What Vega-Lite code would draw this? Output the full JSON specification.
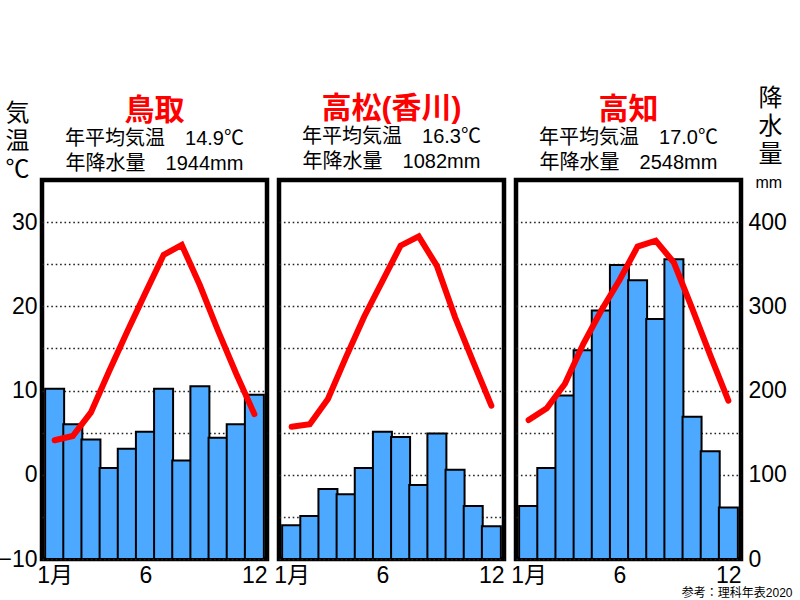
{
  "$schema": "https://vega.github.io/schema/vega-lite/v6.json",
  "autosize": {"type": "pad"},
  "padding": {"left": -5, "top": 83, "right": 0, "bottom": 0},
  "background": "white",
  "datasets": {
    "climate": [
      {"city": "鳥取", "month": 1, "temp": 4.1, "precip": 202},
      {"city": "鳥取", "month": 2, "temp": 4.6, "precip": 160},
      {"city": "鳥取", "month": 3, "temp": 7.4, "precip": 142},
      {"city": "鳥取", "month": 4, "temp": 12.3, "precip": 108},
      {"city": "鳥取", "month": 5, "temp": 17.0, "precip": 131},
      {"city": "鳥取", "month": 6, "temp": 21.6, "precip": 151},
      {"city": "鳥取", "month": 7, "temp": 26.1, "precip": 202},
      {"city": "鳥取", "month": 8, "temp": 27.3, "precip": 117},
      {"city": "鳥取", "month": 9, "temp": 22.5, "precip": 205},
      {"city": "鳥取", "month": 10, "temp": 17.1, "precip": 144},
      {"city": "鳥取", "month": 11, "temp": 12.0, "precip": 160},
      {"city": "鳥取", "month": 12, "temp": 7.2, "precip": 195},
      {"city": "高松", "month": 1, "temp": 5.7, "precip": 40},
      {"city": "高松", "month": 2, "temp": 6.0, "precip": 51},
      {"city": "高松", "month": 3, "temp": 9.0, "precip": 83},
      {"city": "高松", "month": 4, "temp": 14.0, "precip": 77},
      {"city": "高松", "month": 5, "temp": 18.8, "precip": 108},
      {"city": "高松", "month": 6, "temp": 23.0, "precip": 151},
      {"city": "高松", "month": 7, "temp": 27.2, "precip": 145},
      {"city": "高松", "month": 8, "temp": 28.3, "precip": 88},
      {"city": "高松", "month": 9, "temp": 24.8, "precip": 149},
      {"city": "高松", "month": 10, "temp": 18.7, "precip": 106},
      {"city": "高松", "month": 11, "temp": 13.4, "precip": 63},
      {"city": "高松", "month": 12, "temp": 8.2, "precip": 39},
      {"city": "高知", "month": 1, "temp": 6.5, "precip": 63},
      {"city": "高知", "month": 2, "temp": 7.9, "precip": 108},
      {"city": "高知", "month": 3, "temp": 10.8, "precip": 194},
      {"city": "高知", "month": 4, "temp": 15.5, "precip": 248},
      {"city": "高知", "month": 5, "temp": 19.5, "precip": 295},
      {"city": "高知", "month": 6, "temp": 23.1, "precip": 349},
      {"city": "高知", "month": 7, "temp": 27.1, "precip": 331},
      {"city": "高知", "month": 8, "temp": 27.8, "precip": 285},
      {"city": "高知", "month": 9, "temp": 25.2, "precip": 356},
      {"city": "高知", "month": 10, "temp": 19.8, "precip": 169},
      {"city": "高知", "month": 11, "temp": 14.2, "precip": 128},
      {"city": "高知", "month": 12, "temp": 8.8, "precip": 61}
    ]
  },
  "data": {"name": "climate"},
  "spacing": 1,
  "hconcat": [
    {
      "width": 225,
      "height": 379,
      "title": {"text": "鳥取", "subtitle": ["年平均気温　14.9℃", "年降水量　1944mm"], "offset": -73},
      "transform": [{"filter": "datum.city == '鳥取'"}],
      "encoding": {
        "x": {
          "field": "month", "type": "quantitative",
          "scale": {"domain": [0.58, 12.42]},
          "axis": {"values": [1, 6, 12], "labelExpr": "datum.value == 1 ? '1月' : datum.label", "labelFlush": 10, "labelFlushOffset": 9, "title": null}
        }
      },
      "layer": [
        {
          "mark": {"type": "bar", "width": 19, "clip": true, "fill": "#4da8ff", "stroke": "black", "strokeWidth": 2},
          "encoding": {
            "y": {"field": "precip", "type": "quantitative", "scale": {"domain": [0, 450]}, "axis": null}
          }
        },
        {
          "mark": {"type": "line", "color": "#ff0000", "strokeWidth": 6, "strokeCap": "round"},
          "encoding": {
            "y": {
              "field": "temp", "type": "quantitative",
              "scale": {"domain": [-10, 35]},
              "axis": {
                "orient": "left", "grid": true,
                "values": [-10, -5, 0, 5, 10, 15, 20, 25, 30],
                "labelExpr": "datum.value % 10 == 0 ? datum.label : ''",
                "labelPadding": 5,
                "title": ["気", "温", "℃"],
                "titleAngle": 0, "titleAlign": "center", "titleBaseline": "top",
                "titleX": -25, "titleY": -79
              }
            }
          }
        }
      ],
      "resolve": {"scale": {"y": "independent"}}
    },
    {
      "width": 225,
      "height": 379,
      "title": {"text": "高松(香川)", "subtitle": ["年平均気温　16.3℃", "年降水量　1082mm"], "offset": 8},
      "transform": [{"filter": "datum.city == '高松'"}],
      "encoding": {
        "x": {
          "field": "month", "type": "quantitative",
          "scale": {"domain": [0.58, 12.42]},
          "axis": {"values": [1, 6, 12], "labelExpr": "datum.value == 1 ? '1月' : datum.label", "labelFlush": 10, "labelFlushOffset": 9, "title": null}
        }
      },
      "layer": [
        {
          "mark": {"type": "bar", "width": 19, "clip": true, "fill": "#4da8ff", "stroke": "black", "strokeWidth": 2},
          "encoding": {
            "y": {"field": "precip", "type": "quantitative", "scale": {"domain": [0, 450]}, "axis": null}
          }
        },
        {
          "mark": {"type": "line", "color": "#ff0000", "strokeWidth": 6, "strokeCap": "round"},
          "encoding": {
            "y": {
              "field": "temp", "type": "quantitative",
              "scale": {"domain": [-10, 35]},
              "axis": {
                "orient": "left", "grid": true, "labels": false,
                "values": [-10, -5, 0, 5, 10, 15, 20, 25, 30],
                "title": null
              }
            }
          }
        }
      ],
      "resolve": {"scale": {"y": "independent"}}
    },
    {
      "width": 225,
      "height": 379,
      "title": {"text": "高知", "subtitle": ["年平均気温　17.0℃", "年降水量　2548mm"], "offset": -87},
      "transform": [{"filter": "datum.city == '高知'"}],
      "encoding": {
        "x": {
          "field": "month", "type": "quantitative",
          "scale": {"domain": [0.58, 12.42]},
          "axis": {
            "values": [1, 6, 12], "labelExpr": "datum.value == 1 ? '1月' : datum.label", "labelFlush": 10, "labelFlushOffset": 9,
            "title": "参考：理科年表2020", "titleFontSize": 12, "titleFontWeight": "normal",
            "titleAlign": "right", "titleBaseline": "middle", "titleX": 276, "titleY": 33
          }
        }
      },
      "layer": [
        {
          "mark": {"type": "bar", "width": 19, "clip": true, "fill": "#4da8ff", "stroke": "black", "strokeWidth": 2},
          "encoding": {
            "y": {
              "field": "precip", "type": "quantitative", "scale": {"domain": [0, 450]},
              "axis": {
                "orient": "right",
                "values": [0, 100, 200, 300, 400, 447],
                "labelExpr": "datum.value == 447 ? 'mm' : datum.label",
                "labelFontSize": {"condition": {"test": "datum.value == 447", "value": 16}, "value": 23},
                "labelPadding": {"condition": {"test": "datum.value == 447", "value": 14}, "value": 7},
                "labelOverlap": false,
                "title": ["降", "水", "量"],
                "titleAngle": 0, "titleAlign": "center", "titleBaseline": "top",
                "titleX": 29, "titleY": -94
              }
            }
          }
        },
        {
          "mark": {"type": "line", "color": "#ff0000", "strokeWidth": 6, "strokeCap": "round"},
          "encoding": {
            "y": {
              "field": "temp", "type": "quantitative",
              "scale": {"domain": [-10, 35]},
              "axis": {
                "orient": "left", "grid": true, "labels": false,
                "values": [-10, -5, 0, 5, 10, 15, 20, 25, 30],
                "title": null
              }
            }
          }
        }
      ],
      "resolve": {"scale": {"y": "independent"}}
    }
  ],
  "config": {
    "font": "Liberation Sans, Noto Sans CJK JP",
    "view": {"stroke": "black", "strokeWidth": 4.5},
    "axis": {
      "ticks": false,
      "domain": false,
      "grid": false,
      "labelColor": "black",
      "labelFontSize": 23,
      "labelPadding": 5,
      "titleColor": "black",
      "titleFontSize": 24,
      "titleFontWeight": "normal",
      "titleLineHeight": 28,
      "gridColor": "#222222",
      "gridDash": [1.6, 2.8],
      "gridWidth": 1.6
    },
    "title": {
      "color": "#ff0000",
      "fontSize": 30,
      "fontWeight": "bold",
      "anchor": "middle",
      "subtitleColor": "black",
      "subtitleFontSize": 20,
      "subtitleLineHeight": 25,
      "subtitlePadding": 3
    }
  }
}
